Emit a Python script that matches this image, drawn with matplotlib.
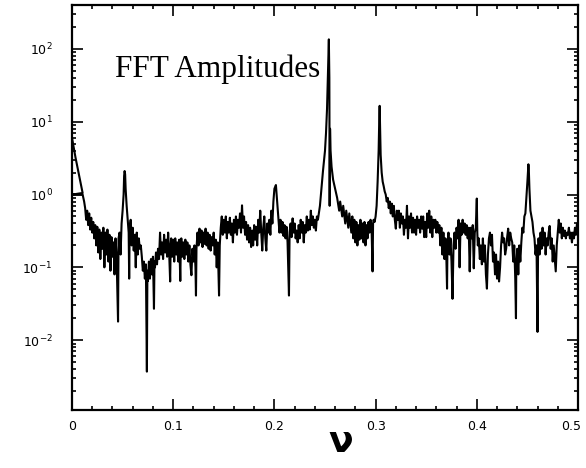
import numpy as np
import matplotlib
matplotlib.use('Agg')
from matplotlib import pyplot as plt
from matplotlib.ticker import MultipleLocator, LogLocator, NullFormatter
from matplotlib.transforms import ScaledTranslation

# spectrum (nu, amplitude), left to right
nu = [
    0.0, 0.0035, 0.0105, 0.0005, 0.0105, 0.012,
    0.013, 0.014, 0.015, 0.016, 0.017, 0.018, 0.019, 0.020, 0.021, 0.022,
    0.023, 0.024, 0.025, 0.026, 0.027, 0.028, 0.029, 0.030, 0.031, 0.032,
    0.033, 0.034, 0.035, 0.036, 0.037, 0.038, 0.039, 0.040, 0.041, 0.042,
    0.043, 0.044, 0.0455, 0.046,
    0.047, 0.048, 0.049, 0.050, 0.051, 0.0515, 0.052, 0.0525, 0.053, 0.054,
    0.055, 0.056, 0.0565, 0.057, 0.058, 0.059, 0.060, 0.061, 0.062, 0.063,
    0.064, 0.065, 0.066, 0.067, 0.068,
    0.069, 0.070, 0.071, 0.072, 0.073, 0.074, 0.0745, 0.075, 0.076, 0.077,
    0.078, 0.079, 0.080, 0.081, 0.0815, 0.082, 0.083, 0.084, 0.085,
    0.086, 0.087, 0.088, 0.089, 0.090, 0.091, 0.092, 0.093, 0.094, 0.095,
    0.096, 0.097, 0.0975, 0.098, 0.099, 0.100, 0.101, 0.102, 0.103, 0.104,
    0.105, 0.106, 0.107, 0.1075, 0.108, 0.109, 0.110, 0.111, 0.112, 0.113,
    0.114, 0.115, 0.116, 0.117, 0.118, 0.119, 0.120, 0.121, 0.122, 0.1225,
    0.123, 0.124, 0.125, 0.126, 0.127, 0.128, 0.129, 0.130, 0.131, 0.132,
    0.133, 0.134, 0.135, 0.136, 0.137, 0.138, 0.139, 0.140, 0.141, 0.142,
    0.143, 0.144, 0.1453, 0.146,
    0.147, 0.148, 0.149, 0.150, 0.151, 0.152, 0.153, 0.154, 0.155, 0.156,
    0.157, 0.158, 0.159, 0.160, 0.161, 0.162, 0.163, 0.164, 0.165, 0.166,
    0.167, 0.168, 0.169, 0.170, 0.171, 0.172, 0.173, 0.174, 0.175, 0.176,
    0.177, 0.178, 0.179, 0.180, 0.181, 0.182, 0.183, 0.184, 0.185, 0.186,
    0.187, 0.188, 0.189, 0.190, 0.191, 0.192, 0.193, 0.194, 0.195, 0.196,
    0.197, 0.198, 0.199, 0.200, 0.2015, 0.203, 0.204, 0.205,
    0.206, 0.207, 0.208, 0.209, 0.210, 0.211, 0.212, 0.213, 0.2144, 0.215,
    0.216, 0.217, 0.218, 0.219, 0.220, 0.221, 0.222, 0.223, 0.224, 0.225,
    0.226, 0.227, 0.228, 0.229, 0.230, 0.231, 0.232, 0.233, 0.234, 0.235,
    0.236, 0.237, 0.238, 0.239, 0.240, 0.241, 0.242, 0.243,
    0.245, 0.246, 0.248, 0.250, 0.251, 0.252, 0.253, 0.2538, 0.2543, 0.2546,
    0.2550, 0.2555, 0.2565, 0.258, 0.260, 0.262, 0.264, 0.265, 0.267, 0.268,
    0.270, 0.271, 0.273, 0.274,
    0.276, 0.277, 0.278, 0.279, 0.280, 0.281, 0.282, 0.283, 0.284, 0.285,
    0.286, 0.287, 0.288, 0.289, 0.290, 0.291, 0.292, 0.293, 0.294, 0.295,
    0.296, 0.297, 0.2975, 0.298, 0.299, 0.300,
    0.301, 0.302, 0.303, 0.3035, 0.304, 0.3045, 0.305, 0.3055, 0.306, 0.307,
    0.308, 0.309, 0.310, 0.311, 0.312, 0.313, 0.314, 0.315, 0.316, 0.317,
    0.318, 0.319, 0.320, 0.321, 0.322, 0.323, 0.324, 0.325, 0.326, 0.327,
    0.328, 0.329, 0.330, 0.331, 0.332, 0.333, 0.334, 0.335, 0.336, 0.337,
    0.338, 0.339, 0.340, 0.341, 0.342, 0.343, 0.344, 0.345, 0.346, 0.347,
    0.348, 0.349, 0.350, 0.351, 0.352, 0.353, 0.354, 0.355, 0.356, 0.357,
    0.358, 0.359, 0.360, 0.361, 0.362, 0.363, 0.364, 0.365, 0.366, 0.367,
    0.368, 0.369, 0.370, 0.3706, 0.371, 0.372, 0.373, 0.374, 0.375, 0.376,
    0.377, 0.378, 0.379, 0.380, 0.381, 0.382, 0.383, 0.384, 0.385, 0.386,
    0.387, 0.388, 0.389, 0.390, 0.391, 0.392, 0.393, 0.394, 0.395, 0.396,
    0.397, 0.398, 0.399, 0.400, 0.4005,
    0.401, 0.402, 0.403, 0.404, 0.405, 0.406, 0.407, 0.408, 0.409, 0.410,
    0.411, 0.412, 0.413, 0.414, 0.415, 0.416, 0.417, 0.418, 0.419, 0.420,
    0.421, 0.422, 0.423, 0.424, 0.425, 0.426, 0.427, 0.428, 0.429, 0.430,
    0.431, 0.432, 0.433, 0.434, 0.435, 0.436, 0.437, 0.438, 0.4387, 0.439,
    0.440, 0.441, 0.442, 0.443, 0.444, 0.445, 0.446, 0.447, 0.448, 0.449,
    0.450, 0.451, 0.4515, 0.452, 0.453, 0.454, 0.455, 0.456, 0.457, 0.458,
    0.459, 0.460, 0.4605, 0.461, 0.462, 0.463, 0.464, 0.465, 0.466, 0.467,
    0.468, 0.469, 0.470, 0.471, 0.472, 0.473, 0.474, 0.475, 0.476, 0.477,
    0.478, 0.479, 0.480, 0.481, 0.482, 0.483, 0.484, 0.485, 0.486, 0.487,
    0.488, 0.489, 0.490, 0.491, 0.492, 0.493, 0.494, 0.495, 0.496, 0.497,
    0.498, 0.499, 0.500,
]

amp = [
    6.0, 3.2, 1.05, 1.0, 1.0, 0.8,
    0.65, 0.45, 0.6, 0.38, 0.55, 0.33, 0.48, 0.30, 0.42, 0.25,
    0.38, 0.20, 0.36, 0.16, 0.33, 0.13, 0.30, 0.18, 0.35, 0.10,
    0.30, 0.15, 0.33, 0.12, 0.28, 0.09, 0.26, 0.14, 0.22, 0.08,
    0.25, 0.15, 0.018, 0.25,
    0.30, 0.15, 0.40, 0.6, 1.0, 1.8, 2.1, 1.9, 1.2, 0.7,
    0.45, 0.30, 0.07, 0.35, 0.45, 0.20, 0.35, 0.17, 0.28, 0.10,
    0.30, 0.15, 0.25, 0.18, 0.20,
    0.14, 0.09, 0.12, 0.07, 0.11, 0.0037, 0.09, 0.065, 0.12, 0.07,
    0.13, 0.08, 0.14, 0.027, 0.12, 0.10, 0.16, 0.11, 0.18,
    0.13, 0.30, 0.15, 0.22, 0.13, 0.28, 0.16, 0.24, 0.14, 0.30,
    0.16, 0.064, 0.20, 0.25, 0.14, 0.24, 0.12, 0.25, 0.15, 0.22,
    0.12, 0.24, 0.065, 0.18, 0.25, 0.14, 0.22, 0.13, 0.24, 0.15,
    0.22, 0.12, 0.20, 0.11, 0.078, 0.18, 0.12, 0.20, 0.10, 0.041,
    0.18, 0.30, 0.20, 0.34, 0.22, 0.32, 0.19, 0.30, 0.21, 0.34,
    0.20, 0.30, 0.18, 0.28, 0.17, 0.26, 0.20, 0.30, 0.15, 0.24,
    0.10, 0.22, 0.041, 0.20,
    0.35, 0.50, 0.28, 0.45, 0.30, 0.50, 0.25, 0.42, 0.30, 0.48,
    0.28, 0.40, 0.22, 0.45, 0.30, 0.50, 0.28, 0.45, 0.35, 0.55,
    0.30, 0.71, 0.35, 0.50, 0.28, 0.42, 0.24, 0.38, 0.22, 0.35,
    0.19, 0.32, 0.20, 0.38, 0.24, 0.36, 0.20, 0.45, 0.30, 0.60,
    0.30, 0.17, 0.35, 0.50, 0.25, 0.17, 0.40, 0.30, 0.45, 0.28,
    0.60, 0.40, 0.80, 1.2, 1.35, 0.70, 0.45, 0.30,
    0.45, 0.30, 0.42, 0.27, 0.38, 0.25, 0.36, 0.22, 0.041, 0.30,
    0.40, 0.26, 0.47, 0.30, 0.40, 0.25, 0.32, 0.22, 0.38, 0.25,
    0.45, 0.30, 0.42, 0.22, 0.38, 0.30, 0.50, 0.32, 0.45, 0.33,
    0.60, 0.38, 0.50, 0.35, 0.45, 0.32, 0.50, 0.45,
    0.70, 1.0, 2.1, 4.0, 7.0, 15.0, 50.0, 135.0, 40.0, 0.7,
    8.0, 4.0, 2.4, 1.6, 1.2, 0.9, 0.6, 0.8, 0.5, 0.7,
    0.4, 0.6, 0.35, 0.55,
    0.30, 0.50, 0.25, 0.45, 0.22, 0.42, 0.20, 0.38, 0.24, 0.45,
    0.25, 0.40, 0.22, 0.42, 0.20, 0.38, 0.25, 0.42, 0.30, 0.45,
    0.35, 0.088, 0.40, 0.45, 0.42, 0.50,
    0.70, 1.5, 4.0, 9.0, 16.5, 8.0, 3.5, 2.6, 2.0, 1.5,
    1.3, 1.1, 1.0, 0.8, 0.9, 0.65, 0.8, 0.55, 0.75, 0.50,
    0.70, 0.45, 0.34, 0.60, 0.45, 0.60, 0.35, 0.55, 0.40, 0.50,
    0.28, 0.45, 0.35, 0.70, 0.25, 0.50, 0.35, 0.55, 0.30, 0.48,
    0.30, 0.45, 0.28, 0.50, 0.35, 0.45, 0.30, 0.50, 0.34, 0.50,
    0.26, 0.42, 0.26, 0.55, 0.35, 0.60, 0.30, 0.50, 0.26, 0.45,
    0.35, 0.45, 0.30, 0.42, 0.30, 0.38, 0.20, 0.35, 0.15, 0.30,
    0.13, 0.25, 0.12, 0.051, 0.20, 0.30, 0.15, 0.25, 0.12, 0.037,
    0.20, 0.30, 0.18, 0.35, 0.25, 0.45, 0.10, 0.40, 0.28, 0.45,
    0.30, 0.40, 0.28, 0.38, 0.25, 0.35, 0.088, 0.35, 0.25, 0.38,
    0.097, 0.30, 0.35, 0.88, 0.30,
    0.20, 0.25, 0.13, 0.20, 0.11, 0.25, 0.12, 0.20, 0.08, 0.051,
    0.15, 0.25, 0.30, 0.20, 0.28, 0.12, 0.16, 0.08, 0.15, 0.07,
    0.12, 0.064, 0.10, 0.20, 0.30, 0.22, 0.25, 0.15, 0.18, 0.26,
    0.34, 0.20, 0.30, 0.25, 0.22, 0.12, 0.20, 0.07, 0.020, 0.10,
    0.18, 0.08, 0.20, 0.12, 0.22, 0.35, 0.30, 0.50, 0.55, 0.90,
    1.5, 2.6, 2.0, 1.2, 0.60, 0.50, 0.42, 0.30, 0.25, 0.15,
    0.20, 0.013, 0.15, 0.25, 0.15, 0.30, 0.18, 0.35, 0.20, 0.30,
    0.15, 0.25, 0.20, 0.30, 0.37, 0.18, 0.25, 0.12, 0.20, 0.13,
    0.088, 0.20, 0.30, 0.45, 0.30, 0.40, 0.25, 0.35, 0.27, 0.32,
    0.25, 0.30, 0.28, 0.35, 0.25, 0.30, 0.22, 0.30, 0.25, 0.35,
    0.28, 0.40, 0.30,
]

xticks = [0, 0.1, 0.2, 0.3, 0.4, 0.5]
xticklabels = ['0', '0.1', '0.2', '0.3', '0.4', '0.5']

fig = plt.figure(figsize=(5.86, 4.68), dpi=100)
ax = fig.add_axes([72/586, 1 - 410/468, 506/586, 405/468])
ax.plot(nu, amp, color='black', lw=1.5)

ax.set_yscale('log')
ax.set_xlim(0, 0.5)
ax.set_ylim(1.1e-3, 400)
ax.set_xticks(xticks)
ax.set_xticklabels(xticklabels)
ax.xaxis.set_minor_locator(MultipleLocator(0.02))
ax.yaxis.set_major_locator(LogLocator(base=10, numticks=10))
ax.yaxis.set_minor_locator(LogLocator(base=10, subs=np.arange(2, 10), numticks=20))
ax.yaxis.set_minor_formatter(NullFormatter())

for s in ax.spines.values():
    s.set_linewidth(1.6)
ax.tick_params(which='both', direction='in', top=True, right=True, width=1.2)
ax.tick_params(which='major', length=8)
ax.tick_params(which='minor', length=3)
ax.tick_params(axis='x', pad=7, labelsize=9)
ax.tick_params(axis='y', pad=14, labelsize=9)

# keep the last x label inside the canvas
last = ax.get_xticklabels()[-1]
last.set_transform(last.get_transform() + ScaledTranslation(-5/72, 0, fig.dpi_scale_trans))

ax.text((115 - 72)/506, 1 - (77 - 5)/405, 'FFT Amplitudes', transform=ax.transAxes,
        family='Liberation Serif', fontsize=22.5)
fig.text(341/586, 1 - 442/468, r'$\mathbf{\nu}$', fontsize=26, ha='center', va='center')

fig.savefig('out.png', dpi=100)
